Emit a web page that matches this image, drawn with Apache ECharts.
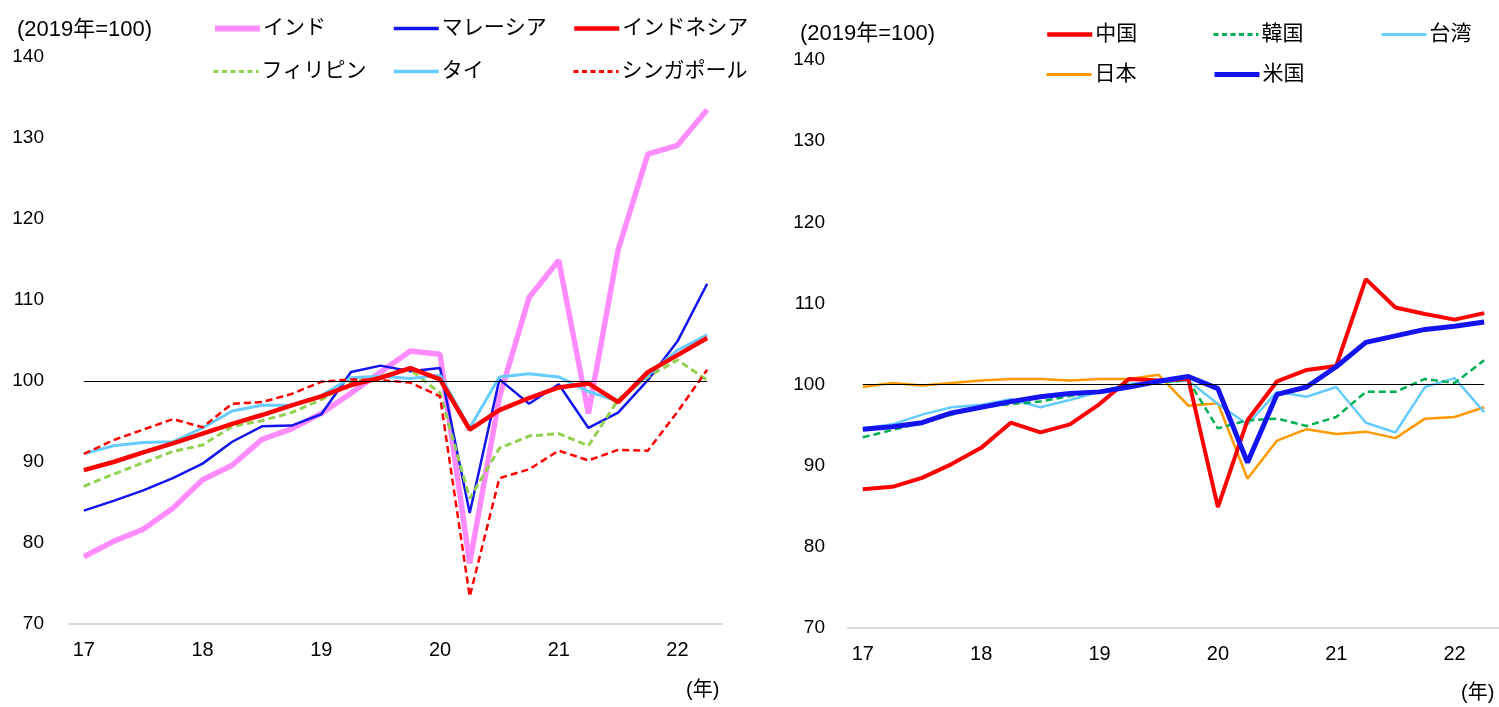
<!DOCTYPE html>
<html>
<head>
<meta charset="utf-8">
<script src="https://cdn.jsdelivr.net/npm/echarts@6/dist/echarts.min.js"></script>
<style>
  html, body { margin: 0; padding: 0; background: #ffffff; }
  #chart { width: 1499px; height: 707px; }
</style>
</head>
<body>
<div id="chart"></div>
<script>
// Quarterly index, 2019 = 100 (2017Q1 - 2022Q2)
const quarters = ['2017Q1','2017Q2','2017Q3','2017Q4','2018Q1','2018Q2','2018Q3','2018Q4',
                  '2019Q1','2019Q2','2019Q3','2019Q4','2020Q1','2020Q2','2020Q3','2020Q4',
                  '2021Q1','2021Q2','2021Q3','2021Q4','2022Q1','2022Q2'];

// Left panel: ASEAN / India
const india       = [78.3, 80.2, 81.7, 84.3, 87.8, 89.6, 92.8, 94.1, 96.0, 98.5, 101.1, 103.7, 103.3, 77.5, 98.0, 110.3, 114.9, 96.0, 116.2, 128.0, 129.1, 133.5];
const malaysia    = [84.0, 85.2, 86.5, 88.0, 89.8, 92.5, 94.4, 94.5, 95.9, 101.1, 101.9, 101.2, 101.6, 83.7, 100.2, 97.2, 99.6, 94.2, 96.1, 100.1, 104.9, 112.0];
const indonesia   = [89.0, 90.0, 91.2, 92.3, 93.5, 94.7, 95.8, 97.0, 98.1, 99.5, 100.4, 101.6, 100.2, 94.0, 96.4, 97.9, 99.2, 99.7, 97.4, 101.1, 103.2, 105.3];
const philippines = [87.0, 88.5, 89.9, 91.3, 92.1, 94.4, 95.1, 96.1, 97.7, 99.8, 100.6, 101.4, 98.5, 85.5, 91.7, 93.2, 93.5, 92.0, 97.7, 100.5, 102.6, 100.1];
const thailand    = [91.0, 92.0, 92.4, 92.5, 94.2, 96.3, 97.0, 97.0, 98.2, 100.4, 100.6, 100.3, 100.7, 94.2, 100.5, 100.9, 100.5, 98.7, 97.5, 100.7, 103.8, 105.7];
const singapore   = [91.0, 92.7, 94.0, 95.3, 94.3, 97.2, 97.4, 98.4, 99.9, 100.2, 100.1, 99.8, 98.1, 73.4, 88.0, 89.1, 91.4, 90.2, 91.5, 91.4, 96.2, 101.4];

// Right panel: East Asia / US
const china  = [87.1, 87.4, 88.5, 90.2, 92.2, 95.3, 94.1, 95.1, 97.6, 100.7, 100.5, 100.7, 84.9, 95.6, 100.4, 101.8, 102.3, 113.0, 109.5, 108.7, 108.0, 108.8];
const korea  = [93.5, 94.4, 95.3, 96.3, 97.2, 97.6, 97.9, 98.6, 99.1, 99.9, 100.3, 100.5, 94.6, 95.6, 95.8, 94.9, 96.0, 99.1, 99.1, 100.7, 100.2, 103.0];
const taiwan = [94.6, 95.1, 96.3, 97.2, 97.5, 98.2, 97.2, 98.1, 99.1, 100.1, 100.3, 100.5, 97.6, 95.1, 99.1, 98.5, 99.7, 95.3, 94.1, 99.7, 100.8, 96.6];
const japan  = [99.7, 100.2, 99.9, 100.2, 100.5, 100.7, 100.7, 100.5, 100.7, 100.7, 101.2, 97.4, 97.7, 88.4, 93.1, 94.5, 93.9, 94.2, 93.4, 95.8, 96.0, 97.2];
const usa    = [94.5, 94.8, 95.3, 96.5, 97.2, 97.9, 98.5, 98.9, 99.1, 99.7, 100.4, 101.0, 99.5, 90.4, 98.8, 99.7, 102.2, 105.2, 106.0, 106.8, 107.2, 107.7];

const yTicks = { min: 70, max: 140, interval: 10 };
const baseLevel = 100;
const unitLabel = '(2019年=100)';
const yearLabel = '(年)';

const FONT = "'Liberation Sans', 'Noto Sans CJK JP', sans-serif";

function xAxisFor(gridIndex) {
  return {
    type: 'category', gridIndex, data: quarters, boundaryGap: true,
    axisLine: { show: true, lineStyle: { color: '#d9d9d9', width: 2 } },
    axisTick: { show: false },
    axisLabel: {
      interval: 3, margin: 16, color: '#000', fontSize: 20, fontFamily: FONT,
      formatter: v => v.slice(2, 4)
    },
    splitLine: { show: false }
  };
}
function yAxisFor(gridIndex, margin) {
  return {
    type: 'value', gridIndex, min: yTicks.min, max: yTicks.max, interval: yTicks.interval,
    axisLine: { show: false }, axisTick: { show: false }, splitLine: { show: false },
    axisLabel: { margin, color: '#000', fontSize: 19, fontFamily: FONT }
  };
}
function line(name, data, axis, color, width, dashed) {
  return {
    name, type: 'line', data, xAxisIndex: axis, yAxisIndex: axis,
    symbol: 'none', smooth: false, animation: false,
    lineStyle: { color, width, type: dashed ? [7, 4] : 'solid' },
    itemStyle: { color }
  };
}
function baseLine(axis) {
  return {
    type: 'line', data: [], xAxisIndex: axis, yAxisIndex: axis, silent: true, animation: false,
    markLine: {
      symbol: 'none', silent: true, animation: false, label: { show: false },
      lineStyle: { color: '#000', width: 1, type: 'solid' },
      data: [[{ coord: [quarters[0], baseLevel] }, { coord: [quarters[quarters.length - 1], baseLevel] }]]
    },
    z: 1
  };
}
function legendItem(name, left, top, width, dashed) {
  return {
    data: [name], left, top, padding: 0, itemWidth: 45, itemHeight: 14,
    itemGap: 0, selectedMode: false,
    itemStyle: { opacity: 0 },
    lineStyle: { width, type: dashed ? [5, 3.5] : 'solid' },
    textStyle: { fontSize: 21, color: '#000', fontFamily: FONT, padding: [0, 0, 0, -2] }
  };
}

const chart = echarts.init(document.getElementById('chart'), null, { renderer: 'canvas' });
chart.setOption({
  backgroundColor: '#ffffff',
  animation: false,
  textStyle: { fontFamily: FONT },
  title: [
    { text: unitLabel, left: 12, top: 14, textStyle: { fontSize: 22, fontWeight: 'normal', color: '#000', fontFamily: FONT } },
    { text: unitLabel, left: 795, top: 18, textStyle: { fontSize: 22, fontWeight: 'normal', color: '#000', fontFamily: FONT } }
  ],
  graphic: [
    { type: 'text', left: 686, top: 680, style: { text: yearLabel, fontSize: 20, fill: '#000', fontFamily: FONT } },
    { type: 'text', left: 1461, top: 683, style: { text: yearLabel, fontSize: 20, fill: '#000', fontFamily: FONT } }
  ],
  legend: [
    legendItem('インド', 212, 18, 6, false),
    legendItem('マレーシア', 392, 18, 3.5, false),
    legendItem('インドネシア', 572, 18, 4.5, false),
    legendItem('フィリピン', 212, 61, 3, true),
    legendItem('タイ', 392, 61, 3.5, false),
    legendItem('シンガポール', 572, 61, 3, true),
    legendItem('中国', 1045, 24, 4.5, false),
    legendItem('韓国', 1212, 24, 3, true),
    legendItem('台湾', 1380, 24, 3, false),
    legendItem('日本', 1045, 64, 3, false),
    legendItem('米国', 1212, 64, 5, false)
  ],
  grid: [
    { left: 69, top: 57, width: 653, height: 567 },
    { left: 848, top: 60, width: 654, height: 568 }
  ],
  xAxis: [xAxisFor(0), xAxisFor(1)],
  yAxis: [yAxisFor(0, 25), yAxisFor(1, 23)],
  series: [
    baseLine(0),
    baseLine(1),
    line('インド', india, 0, '#ff8cff', 5.5, false),
    line('マレーシア', malaysia, 0, '#1414ee', 2.5, false),
    line('フィリピン', philippines, 0, '#92d050', 3, true),
    line('タイ', thailand, 0, '#66ccff', 3, false),
    line('シンガポール', singapore, 0, '#ff0000', 2.5, true),
    line('インドネシア', indonesia, 0, '#ff0000', 4.5, false),
    line('日本', japan, 1, '#ff9900', 2.5, false),
    line('台湾', taiwan, 1, '#66ccff', 2.5, false),
    line('韓国', korea, 1, '#00b050', 2.5, true),
    line('中国', china, 1, '#ff0000', 4, false),
    line('米国', usa, 1, '#1414f0', 5, false)
  ]
});
</script>
</body>
</html>
